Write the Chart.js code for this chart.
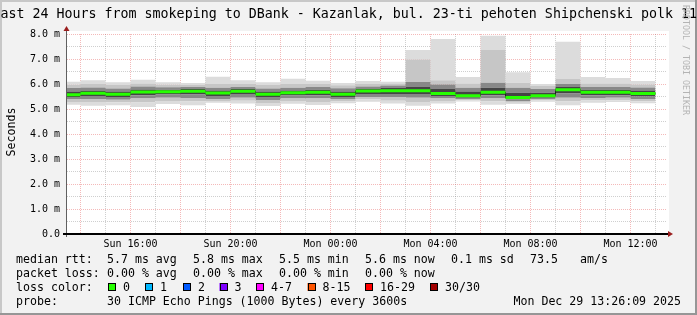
<!DOCTYPE html>
<html>
<head>
<meta charset="utf-8">
<script src="https://cdn.jsdelivr.net/npm/chart.js@4.4.0/dist/chart.umd.min.js"></script>
<style>
  html, body { margin: 0; padding: 0; background: #f2f2f2; }
  canvas { display: block; }
</style>
</head>
<body>
<canvas id="smokeChart" width="697" height="315"></canvas>
<script>
// hourly bins (hours since Sun 00:00); first bin is the partial one at the left edge
const binHours = [13.46, 14, 15, 16, 17, 18, 19, 20, 21, 22, 23, 24, 25, 26, 27, 28, 29, 30, 31, 32, 33, 34, 35, 36];
const binEnd = 37;

// smoke: distribution of the 30 pings per bin (ms)
const minRtt    = [5.17, 5.13, 5.15, 5.08, 5.20, 5.15, 5.25, 5.22, 5.12, 5.21, 5.16, 5.23, 5.29, 5.22, 5.13, 5.22, 5.30, 5.17, 5.20, 5.29, 5.15, 5.25, 5.28, 5.23];
const p10Rtt    = [5.28, 5.28, 5.27, 5.26, 5.32, 5.30, 5.32, 5.33, 5.24, 5.32, 5.28, 5.30, 5.38, 5.33, 5.28, 5.32, 5.35, 5.30, 5.25, 5.34, 5.30, 5.34, 5.35, 5.31];
const p25Rtt    = [5.38, 5.40, 5.37, 5.42, 5.45, 5.44, 5.40, 5.45, 5.36, 5.42, 5.42, 5.38, 5.48, 5.48, 5.45, 5.42, 5.40, 5.42, 5.32, 5.40, 5.45, 5.44, 5.45, 5.40];
const p40Rtt    = [5.48, 5.52, 5.48, 5.55, 5.58, 5.58, 5.52, 5.60, 5.48, 5.54, 5.55, 5.48, 5.60, 5.60, 5.60, 5.52, 5.45, 5.55, 5.38, 5.45, 5.62, 5.55, 5.55, 5.50];
const medianRtt = [5.57, 5.63, 5.59, 5.68, 5.69, 5.71, 5.64, 5.71, 5.59, 5.65, 5.67, 5.59, 5.72, 5.73, 5.73, 5.62, 5.53, 5.67, 5.46, 5.53, 5.77, 5.67, 5.67, 5.62];
const p60Rtt    = [5.70, 5.72, 5.70, 5.78, 5.77, 5.80, 5.74, 5.80, 5.70, 5.74, 5.77, 5.70, 5.80, 5.84, 5.88, 5.80, 5.70, 5.85, 5.65, 5.65, 5.88, 5.77, 5.77, 5.74];
const p75Rtt    = [5.84, 5.86, 5.82, 5.90, 5.87, 5.88, 5.85, 5.88, 5.82, 5.85, 5.88, 5.83, 5.90, 5.94, 6.08, 5.98, 5.85, 6.05, 5.85, 5.80, 6.00, 5.88, 5.88, 5.86];
const p90Rtt    = [5.97, 6.00, 5.96, 6.02, 5.97, 5.96, 6.00, 6.00, 5.96, 6.00, 6.00, 5.95, 6.00, 6.02, 6.98, 6.15, 6.02, 7.36, 6.05, 5.92, 6.20, 6.02, 6.02, 5.98];
const maxRtt    = [6.09, 6.15, 6.07, 6.17, 6.07, 6.04, 6.29, 6.15, 6.07, 6.21, 6.13, 6.04, 6.12, 6.09, 7.36, 7.80, 6.28, 7.93, 6.47, 6.00, 7.69, 6.28, 6.24, 6.12];

// axis labels
const xTickHours = [16, 20, 24, 28, 32, 36];
const xTickLabels = ["Sun 16:00", "Sun 20:00", "Mon 00:00", "Mon 04:00", "Mon 08:00", "Mon 12:00"];
const yTickLabels = ["0.0", "1.0 m", "2.0 m", "3.0 m", "4.0 m", "5.0 m", "6.0 m", "7.0 m", "8.0 m"];

// legend text
const titleText = "Last 24 Hours from smokeping to DBank - Kazanlak, bul. 23-ti pehoten Shipchenski polk 11";
const rttLegend = ["median rtt:", "5.7 ms avg", "5.8 ms max", "5.5 ms min", "5.6 ms now", "0.1 ms sd", "73.5", "am/s"];
const lossLegend = ["packet loss:", "0.00 % avg", "0.00 % max", "0.00 % min", "0.00 % now"];
const lossLabels = ["0", "1", "2", "3", "4-7", "8-15", "16-29", "30/30"];
const lossColors = ["#26ff00", "#00b8ff", "#0059ff", "#7e00ff", "#ff00ff", "#ff5500", "#ff0000", "#a10000"];
const probeText = "30 ICMP Echo Pings (1000 Bytes) every 3600s";
const stampText = "Mon Dec 29 13:26:09 2025";

const MONO = '"DejaVu Sans Mono", monospace';
const majorGrid = "rgba(225, 70, 70, 0.38)";
const minorGrid = "rgba(130, 130, 130, 0.38)";

// smoke shades, outermost to innermost
const shadeOuter = "#dcdcdc";
const shadeTail = "#c6c6c6";
const shadeMid = "#888888";
const shadeCore = "#444444";

function stepPoints(values) {
    let pts = binHours.map((h, i) => ({ x: h, y: values[i] }));
    pts.push({ x: binEnd, y: values[values.length - 1] });
    return pts;
}

// each layer fills down to the previous dataset
function layer(values, color) {
    return {
        data: stepPoints(values), stepped: "before", borderWidth: 0, pointRadius: 0, order: 3,
        fill: color ? "-1" : false, backgroundColor: color || "transparent"
    };
}

// green median pieces, horizontal only
let greenPts = [];
binHours.forEach((h, i) => {
    let end = i + 1 < binHours.length ? binHours[i + 1] : binEnd;
    greenPts.push({ x: h, y: medianRtt[i] }, { x: end, y: medianRtt[i] }, { x: end, y: null });
});

const frame = {
    id: "rrdFrame",
    beforeDraw(chart) {
        const { ctx, chartArea: a, width, height } = chart;
        ctx.save();
        ctx.fillStyle = "#f2f2f2";
        ctx.fillRect(0, 0, width, height);
        ctx.fillStyle = "#ffffff";
        ctx.fillRect(a.left, a.top - 3, a.right - a.left + 2, a.bottom - a.top + 3);
        ctx.fillStyle = "#c8c8c8";
        ctx.fillRect(0, 0, width, 2);
        ctx.fillRect(0, 0, 2, height);
        ctx.fillStyle = "#969696";
        ctx.fillRect(0, height - 2, width, 2);
        ctx.fillRect(width - 2, 0, 2, height);
        ctx.restore();
    },
    afterDraw(chart) {
        const { ctx, chartArea: a } = chart;
        ctx.save();

        // axes
        ctx.strokeStyle = "#606060";
        ctx.lineWidth = 1;
        ctx.beginPath();
        ctx.moveTo(a.left - 0.5, a.top - 3);
        ctx.lineTo(a.left - 0.5, a.bottom + 3);
        ctx.stroke();
        ctx.strokeStyle = "#000000";
        ctx.lineWidth = 2;
        ctx.beginPath();
        ctx.moveTo(a.left - 4, a.bottom);
        ctx.lineTo(a.right + 1, a.bottom);
        ctx.stroke();

        // arrows
        ctx.fillStyle = "#9a1e1e";
        ctx.beginPath();
        ctx.moveTo(a.right + 1, a.bottom - 3);
        ctx.lineTo(a.right + 6, a.bottom);
        ctx.lineTo(a.right + 1, a.bottom + 3);
        ctx.closePath();
        ctx.fill();
        ctx.beginPath();
        ctx.moveTo(a.left - 3.5, a.top - 3);
        ctx.lineTo(a.left - 0.5, a.top - 8);
        ctx.lineTo(a.left + 2.5, a.top - 3);
        ctx.closePath();
        ctx.fill();

        // title
        ctx.fillStyle = "#000000";
        ctx.font = "13.3px " + MONO;
        ctx.textBaseline = "alphabetic";
        ctx.textAlign = "left";
        ctx.fillText(titleText, -7.5, 18);

        // y title
        ctx.save();
        ctx.font = "11.6px " + MONO;
        ctx.translate(15, (a.top + a.bottom) / 2 - 2);
        ctx.rotate(-Math.PI / 2);
        ctx.textAlign = "center";
        ctx.fillText("Seconds", 0, 0);
        ctx.restore();

        // watermark
        ctx.save();
        ctx.font = "8.3px " + MONO;
        ctx.fillStyle = "#b4b4b4";
        ctx.translate(683, 5);
        ctx.rotate(Math.PI / 2);
        ctx.fillText("RRDTOOL / TOBI OETIKER", 0, 0);
        ctx.restore();

        // legend
        ctx.font = "11.6px " + MONO;
        ctx.fillStyle = "#000000";
        const rttX = [16, 107, 193, 279, 365, 451, 530, 580];
        rttLegend.forEach((t, i) => ctx.fillText(t, rttX[i], 263));
        lossLegend.forEach((t, i) => ctx.fillText(t, rttX[i], 277));
        ctx.fillText("loss color:", 16, 291);
        const boxX = [108, 145, 183, 219.5, 256, 307.5, 365, 430];
        lossLabels.forEach((t, i) => {
            ctx.fillStyle = lossColors[i];
            ctx.fillRect(boxX[i], 283, 8, 8);
            ctx.strokeStyle = "#000000";
            ctx.lineWidth = 1;
            ctx.strokeRect(Math.round(boxX[i]) + 0.5, 283.5, 7, 7);
            ctx.fillStyle = "#000000";
            ctx.fillText(t, boxX[i] + 15, 291);
        });
        ctx.fillText("probe:", 16, 305);
        ctx.fillText(probeText, 107, 305);
        ctx.textAlign = "right";
        ctx.fillText(stampText, 681, 305);

        ctx.restore();
    }
};

new Chart(document.getElementById("smokeChart").getContext("2d"), {
    type: "line",
    data: {
        datasets: [
            layer(minRtt),
            layer(p10Rtt, shadeOuter),
            layer(p25Rtt, shadeTail),
            layer(p40Rtt, shadeMid),
            layer(p60Rtt, shadeCore),
            layer(p75Rtt, shadeMid),
            layer(p90Rtt, shadeTail),
            layer(maxRtt, shadeOuter),
            { data: stepPoints(medianRtt), stepped: "before", borderWidth: 1, borderColor: "#202020", pointRadius: 0, fill: false, order: 2 },
            { data: greenPts, borderWidth: 3, borderColor: "#26ff00", pointRadius: 0, fill: false, spanGaps: false, tension: 0, order: 1 }
        ]
    },
    options: {
        responsive: false,
        animation: false,
        devicePixelRatio: 1,
        layout: { padding: { top: 34, right: 30, bottom: 61, left: 0 } },
        plugins: { legend: { display: false }, tooltip: { enabled: false }, title: { display: false } },
        scales: {
            x: {
                type: "linear",
                min: 13.46,
                max: 37.46,
                afterBuildTicks: s => {
                    let t = [];
                    for (let h = 14; h <= 37; h++) t.push({ value: h });
                    s.ticks = t;
                },
                afterFit: s => { s.height = 20; },
                ticks: {
                    autoSkip: false, maxRotation: 0, minRotation: 0, padding: 4, color: "#000000",
                    font: { family: MONO, size: 10 },
                    callback: v => { let i = xTickHours.indexOf(v); return i >= 0 ? xTickLabels[i] : ""; }
                },
                grid: { drawTicks: false, lineWidth: 1, color: c => (c.tick && c.tick.value % 2 === 0) ? majorGrid : minorGrid },
                border: { display: false, dash: [1, 1] }
            },
            y: {
                type: "linear",
                min: 0,
                max: 8,
                afterBuildTicks: s => {
                    let t = [];
                    for (let v = 0; v <= 8; v += 0.5) t.push({ value: v });
                    s.ticks = t;
                },
                afterFit: s => { s.width = 67; },
                ticks: {
                    autoSkip: false, padding: 7, color: "#000000",
                    font: { family: MONO, size: 10 },
                    callback: v => Number.isInteger(v) ? yTickLabels[v] : ""
                },
                grid: { drawTicks: false, lineWidth: 1, color: c => (c.tick && Number.isInteger(c.tick.value)) ? majorGrid : minorGrid },
                border: { display: false, dash: [1, 1] }
            }
        }
    },
    plugins: [frame]
});
</script>
</body>
</html>
